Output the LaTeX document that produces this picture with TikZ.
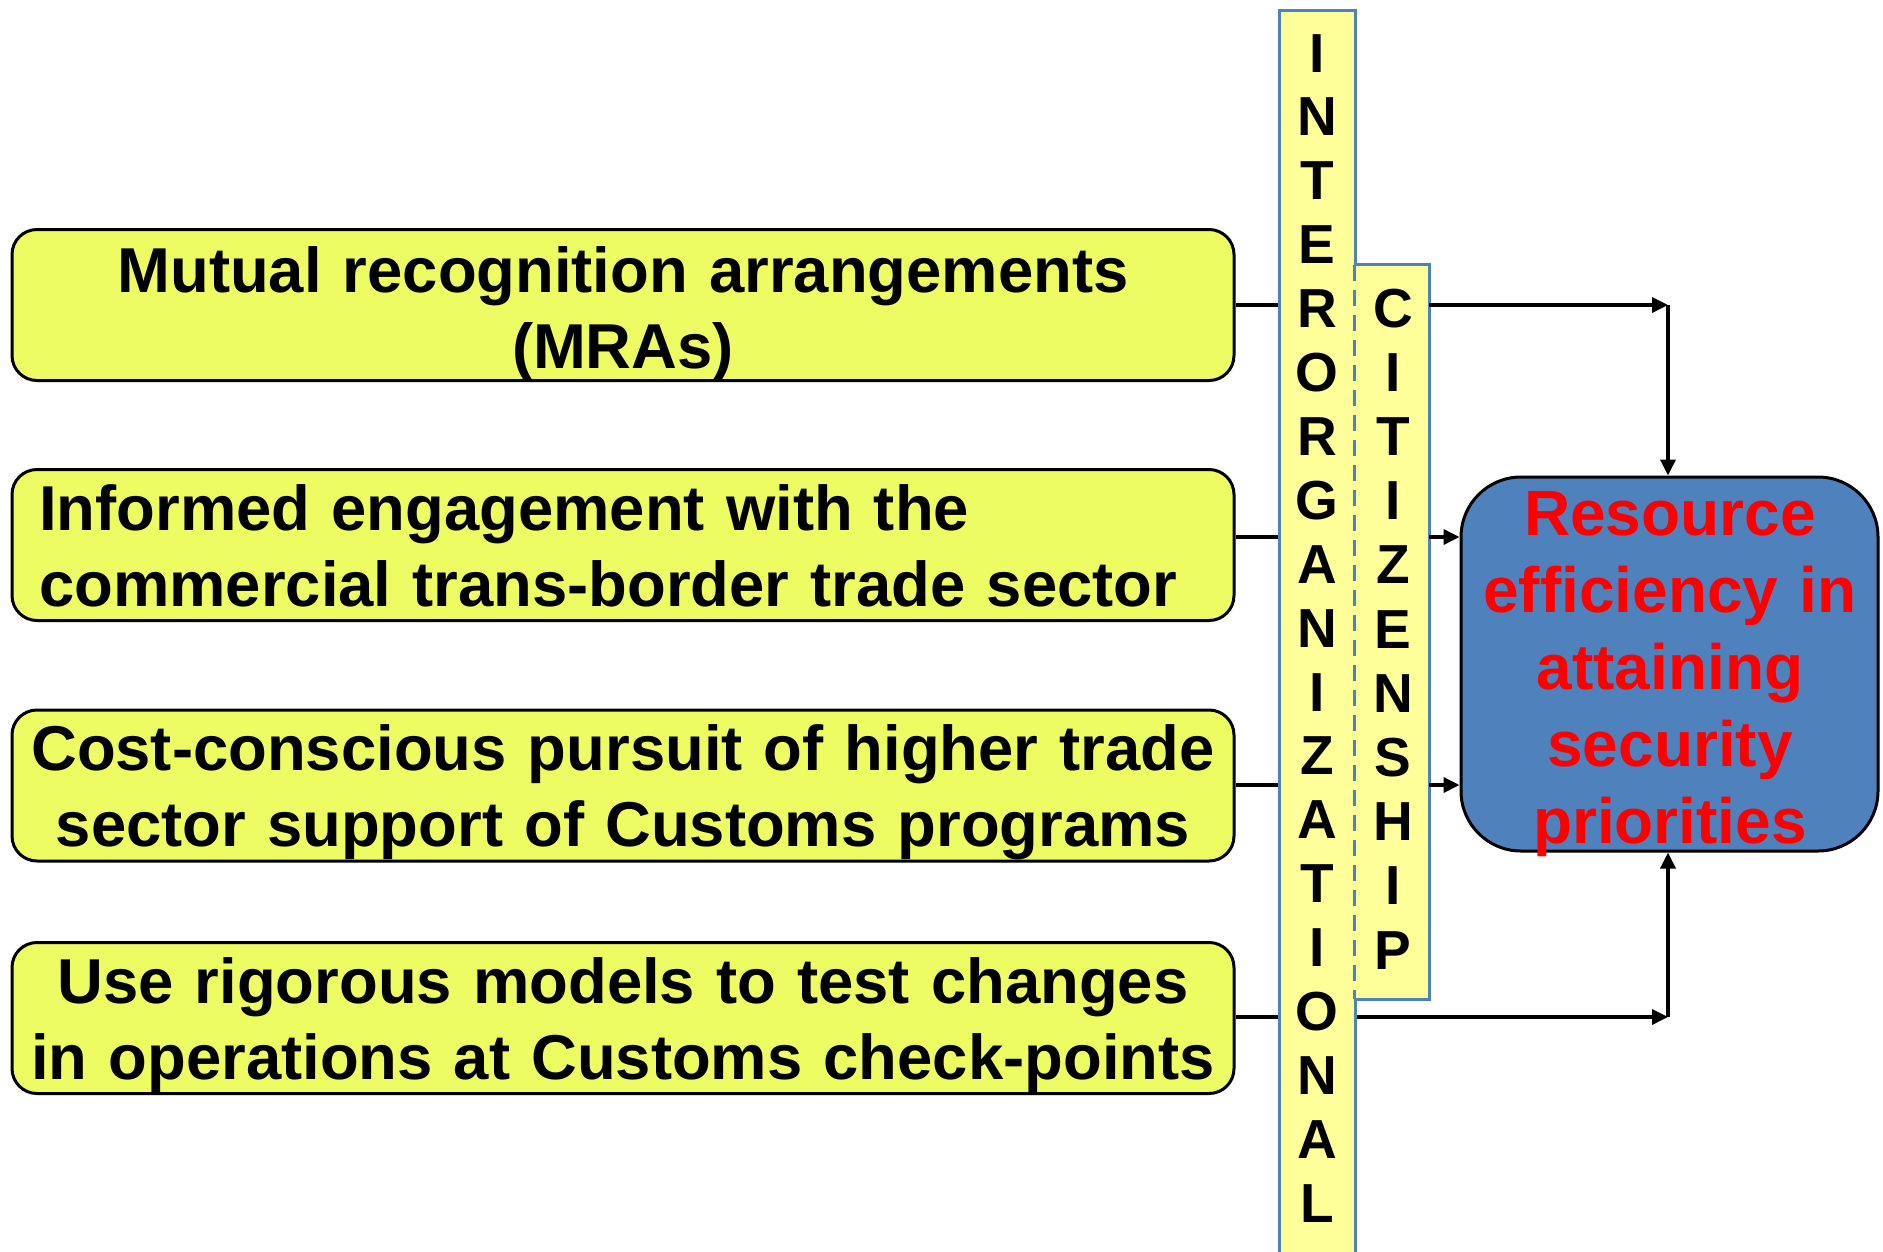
\documentclass[tikz,border=0pt]{standalone}
\usepackage{fontspec}
\setmainfont{Liberation Sans}
\usetikzlibrary{arrows.meta}
\definecolor{boxyellow}{HTML}{EDFC62}
\definecolor{barfill}{HTML}{FFFF99}
\definecolor{barblue}{HTML}{4F81BD}
\definecolor{goalblue}{HTML}{4F81BD}
\begin{document}
\begin{tikzpicture}[x=1pt,y=-1pt,
  ybox/.style={draw=black, line width=3pt, fill=boxyellow, rounded corners=25pt,
    minimum width=1222pt, minimum height=151pt, inner sep=0pt},
  ytext/.style={font=\fontsize{63.4}{76}\selectfont\bfseries, text width=1200pt, inner sep=0pt},
  vletter/.style={font=\fontsize{55}{60}\selectfont\bfseries, inner sep=0pt, anchor=base},
  barline/.style={draw=barblue, line width=3pt},
  link/.style={line width=3.5pt},
  flow/.style={link, -{Triangle[length=16pt,width=15pt]}},
]
\useasboundingbox (0,0) rectangle (1883,1251);

% rows of the connectors
\coordinate (r1) at (0,305);
\coordinate (r2) at (0,537);
\coordinate (r3) at (0,785);
\coordinate (r4) at (0,1017);
\coordinate (c1) at (1668,305);
\coordinate (c4) at (1668,1017);

% the four initiatives
\node[ybox] (b1) at (623,305) {};
\node[ybox] (b2) at (623,545) {};
\node[ybox] (b3) at (623,785.5) {};
\node[ybox] (b4) at (623,1018) {};

% goal box
\node[draw=black, line width=3pt, fill=goalblue, rounded corners=60pt,
  minimum width=417pt, minimum height=374pt, inner sep=0pt] (goal) at (1669.5,664) {};

% connectors
\draw[link] (b1.east |- r1) -- (1300,305);
\draw[link] (b2.east |- r2) -- (1300,537);
\draw[link] (b3.east |- r3) -- (1300,785);
\draw[link] (b4.east |- r4) -- (1300,1017);

% interorganizational bar
\node[fill=barfill, barline, inner sep=0pt, minimum width=76pt, minimum height=1270pt,
  anchor=north] (inter) at (1317,9) {};
% citizenship bar, its left side dashed where it lies over the first bar
\node[inner sep=0pt, minimum width=74pt, minimum height=734pt] (cit) at (1392,632) {};
\fill[barfill] ([xshift=-2pt]cit.north west) rectangle (cit.south east);
\draw[barline] (cit.north west) -- (cit.north east) -- (cit.south east) -- (cit.south west);
\draw[barline, dash pattern=on 16pt off 9pt] (cit.north west) -- (cit.south west);

\draw[flow] (cit.east |- r1) -- (c1);
\draw[flow] (c1) -- (c1 |- goal.north);
\draw[flow] (cit.east |- r2) -- (goal.west |- r2);
\draw[flow] (cit.east |- r3) -- (goal.west |- r3);
\draw[flow] (inter.east |- r4) -- (c4);
\draw[flow] (c4) -- (c4 |- goal.south);

% texts
\node[ytext, align=center, anchor=base] (t1) at (623,292)
  {Mutual recognition arrangements\\(MRAs)};
\node[ytext, align=left, anchor=base west] (t2) at (39,530)
  {Informed engagement with the\\commercial trans-border trade sector};
\node[ytext, align=center, anchor=base] (t3) at (623,770)
  {Cost-conscious pursuit of higher trade\\sector support of Customs programs};
\node[ytext, align=center, anchor=base] (t4) at (623,1003)
  {Use rigorous models to test changes\\in operations at Customs check-points};

\node[font=\fontsize{64}{77}\selectfont\bfseries, text=red, text width=420pt,
  align=center, inner sep=0pt, anchor=base] (goaltext) at (1670,535)
  {Resource\\efficiency in\\attaining\\security\\priorities};

\foreach \ch [count=\i from 0] in {I,N,T,E,R,O,R,G,A,N,I,Z,A,T,I,O,N,A,L}
  \node[vletter] (inter-\i) at (1317,{72+63.9*\i}) {\ch};
\foreach \ch [count=\i from 0] in {C,I,T,I,Z,E,N,S,H,I,P}
  \node[vletter] (cit-\i) at (1393,{327+64.2*\i}) {\ch};
\end{tikzpicture}
\end{document}
